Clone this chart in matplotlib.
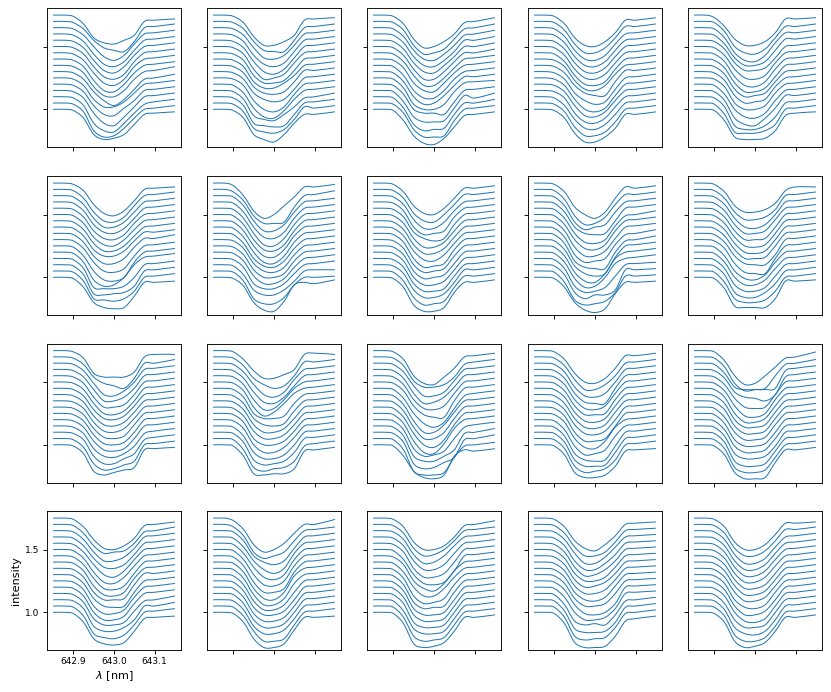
import numpy as np
import matplotlib
matplotlib.use("Agg")
import matplotlib.pyplot as plt
from matplotlib.path import Path
from matplotlib.patches import PathPatch

# sample wavelengths [nm]
wavelength = [642.85, 642.88, 642.90, 642.925, 642.95, 642.975, 643.0, 643.025, 643.05, 643.075, 643.10, 643.15]
# baseline of each stacked curve, top to bottom
offsets = [1.75, 1.70, 1.65, 1.60, 1.55, 1.50, 1.45, 1.40, 1.35, 1.30, 1.25, 1.20, 1.15, 1.10, 1.05, 1.00]
x_ticks = [642.9, 643.0, 643.1]
y_ticks = [1.0, 1.5]

# Depth below the baseline (0.01 units) at 642.90 ... 643.15, one row per curve
P01 = [[1,7,18,22,23,20,16,5,4,3],[1,6,15,21,23,24,16,5,4,2],[1,6,15,23,26,22,13,5,4,2],[1,6,16,24,26,22,13,5,4,2],
       [1,6,16,24,26,21,12,5,4,2],[1,6,16,24,26,22,12,5,4,2],[1,6,16,24,26,21,11,5,4,2],[1,6,17,25,26,20,11,5,4,2],
       [1,6,17,24,25,20,11,5,4,1],[1,6,16,23,27,22,14,6,5,2],[1,6,17,23,23,19,12,5,4,2],[1,6,17,24,25,19,13,5,4,2],
       [1,6,18,26,28,21,13,5,4,2],[1,7,21,27,28,21,13,6,4,2],[1,7,22,27,26,20,12,5,4,2],[1,7,20,24,23,20,12,4,3,2]]
P02 = [[1,6,17,24,24,21,16,4,3,2],[1,6,16,23,24,24,15,5,4,2],[1,6,16,24,25,22,14,5,4,2],[1,6,17,24,26,23,14,5,4,2],
       [1,6,17,25,27,23,14,5,4,2],[1,6,18,26,25,22,13,5,4,2],[1,6,18,24,24,22,14,5,4,2],[1,6,18,23,23,19,13,5,4,2],
       [1,6,17,22,23,21,13,4,4,2],[1,6,17,22,24,22,14,5,4,2],[1,6,18,25,27,23,13,5,4,2],[1,7,19,26,27,21,12,5,4,2],
       [1,7,20,23,24,19,13,6,5,2],[1,7,21,23,24,23,14,5,4,2],[1,7,20,23,24,21,13,3,4,2],[1,7,20,24,26,20,11,4,4,2]]
P03 = [[1,7,19,26,25,21,15,6,5,2],[1,7,19,26,25,22,14,6,5,2],[1,7,18,25,26,21,14,6,5,2],[1,7,18,25,26,21,14,5,5,2],
       [1,7,18,25,26,20,13,5,5,2],[1,7,18,26,26,20,12,5,5,2],[1,7,18,26,26,20,12,5,4,2],[1,7,19,25,26,19,11,5,4,2],
       [1,8,20,26,26,20,11,5,4,2],[1,8,20,26,25,19,11,4,4,2],[1,8,21,25,25,21,11,4,3,2],[1,8,20,23,23,24,14,5,4,2],
       [1,9,21,25,25,24,14,4,6,2],[1,9,22,27,26,25,14,5,5,2],[1,8,21,27,27,26,14,5,4,2],[1,9,21,27,28,23,14,5,4,2]]
P04 = [[1,7,18,24,25,21,14,4,4,2],[1,7,18,25,25,21,13,4,4,2],[1,7,18,25,26,22,13,5,4,2],[1,7,18,25,26,22,13,5,4,2],
       [1,7,18,25,26,22,13,5,4,2],[1,7,18,25,26,22,13,5,4,2],[1,7,18,25,26,23,13,5,4,2],[1,6,17,24,25,21,12,5,4,2],
       [1,6,16,22,24,24,13,4,4,2],[1,6,17,23,26,24,14,5,4,2],[1,6,17,25,27,24,14,5,4,2],[1,6,17,25,26,22,13,5,4,2],
       [1,6,18,25,26,22,13,5,4,2],[1,7,18,25,26,22,14,5,4,2],[1,7,19,26,26,23,15,5,4,2],[1,7,19,26,26,22,15,4,4,2]]
P05 = [[2,9,19,24,24,21,14,3,3,2],[1,8,20,25,26,22,13,4,4,2],[1,8,20,26,27,22,12,4,4,2],[1,8,19,25,25,22,13,4,4,2],
       [1,7,18,24,24,22,14,5,4,2],[1,7,18,25,26,23,13,5,4,2],[1,7,19,26,27,23,13,5,4,2],[1,7,19,26,26,23,14,5,4,2],
       [1,7,19,25,24,22,13,5,4,2],[1,7,19,25,24,22,12,5,4,2],[1,7,20,25,25,22,12,5,4,2],[1,8,20,26,27,23,13,5,4,2],
       [1,8,22,27,28,22,14,4,4,2],[1,8,23,26,26,23,16,5,4,2],[1,9,23,24,24,22,17,5,4,2],[1,9,22,24,24,23,17,5,3,2]]
P06 = [[1,6,17,24,26,22,14,5,4,3],[1,7,18,25,26,22,13,5,4,2],[1,7,18,25,25,21,13,5,4,2],[1,7,18,24,25,21,13,5,4,2],
       [1,7,18,24,25,21,12,5,4,2],[1,7,18,24,25,20,12,5,4,2],[1,7,18,24,24,20,12,5,4,2],[1,7,18,23,23,19,11,4,4,2],
       [1,7,18,24,24,20,11,4,4,1],[1,7,18,25,26,23,13,5,4,2],[1,8,20,27,28,25,13,5,4,2],[1,8,22,27,26,20,10,4,3,1],
       [1,8,23,24,24,22,15,5,4,2],[1,8,23,24,23,22,17,5,4,2],[1,8,22,23,24,22,16,5,4,2],[1,8,20,24,25,24,15,4,4,3]]
P07 = [[2,10,22,28,25,18,11,3,3,1],[2,9,21,27,27,26,14,5,4,1],[1,8,20,28,28,23,13,5,4,2],[1,8,20,28,29,24,13,5,4,2],
       [1,8,20,29,30,24,13,5,4,2],[1,8,20,28,29,24,13,5,4,2],[1,8,20,28,29,23,12,5,4,2],[1,8,20,28,29,23,12,5,4,2],
       [1,8,20,26,27,22,12,5,4,2],[1,7,19,25,26,22,12,5,4,2],[1,7,19,25,25,22,12,5,4,2],[1,7,19,25,25,21,12,5,4,2],
       [1,7,20,24,24,20,12,5,4,2],[1,8,20,24,24,20,13,5,4,4],[1,8,22,26,26,21,11,5,5,4],[1,7,20,26,27,19,6,4,5,2]]
P08 = [[1,7,18,24,25,20,12,4,4,2],[1,7,19,25,26,20,12,4,4,2],[1,7,19,26,26,21,12,5,4,2],[1,7,20,26,25,23,12,5,4,2],
       [1,7,19,24,26,24,13,5,4,2],[1,7,19,26,26,22,13,5,4,2],[1,7,19,26,26,22,13,5,4,2],[1,7,19,26,27,22,13,5,4,2],
       [1,7,20,27,26,24,13,5,4,2],[1,7,20,26,25,23,13,5,4,2],[1,7,20,26,25,23,14,5,4,2],[1,7,20,26,26,23,14,5,4,2],
       [1,7,20,26,26,24,14,5,4,2],[1,7,20,26,26,23,14,4,4,2],[1,8,21,27,26,24,13,4,4,2],[1,8,22,27,27,24,12,4,4,2]]
P09 = [[1,7,19,25,28,23,12,3,4,2],[1,8,21,28,27,22,12,4,4,2],[1,8,21,27,25,23,13,5,4,2],[1,8,20,25,26,25,15,5,4,2],
       [1,8,20,27,28,25,14,6,5,2],[1,8,20,27,28,24,13,5,4,2],[1,8,21,28,28,24,14,5,4,2],[1,8,22,28,27,25,14,6,5,2],
       [1,8,22,27,28,28,15,6,5,2],[1,8,21,27,29,27,14,5,4,2],[1,8,21,28,29,22,10,5,4,2],[1,8,21,28,27,20,9,5,4,2],
       [1,8,22,27,26,23,14,5,4,3],[1,8,22,27,24,24,20,4,4,3],[1,9,23,27,26,24,17,4,4,3],[1,8,20,26,28,25,13,4,4,3]]
P10 = [[1,7,18,23,23,21,16,6,3,3],[1,7,18,24,24,22,16,5,4,2],[1,7,18,25,26,23,15,5,4,2],[1,7,18,25,25,23,14,5,4,2],
       [1,7,18,25,25,24,15,5,4,2],[1,7,18,25,26,24,15,5,4,2],[1,7,18,25,26,24,15,5,4,2],[1,7,18,25,25,24,15,5,4,2],
       [1,7,18,24,25,25,17,5,4,2],[1,7,19,26,27,27,15,5,4,2],[1,8,20,26,27,23,13,5,4,2],[1,8,20,26,26,22,13,5,4,2],
       [1,8,21,26,26,23,14,5,4,2],[1,8,22,26,26,22,15,5,4,2],[1,9,22,25,25,23,16,5,4,2],[1,9,23,24,24,24,17,3,3,2]]
P11 = [[1,6,18,21,21,21,17,5,3,3],[1,6,16,21,23,25,17,5,5,2],[1,6,16,25,26,22,15,5,4,2],[1,6,16,25,25,22,15,5,4,2],
       [1,6,17,25,25,23,15,5,4,2],[1,6,17,25,26,23,15,5,4,2],[1,6,17,24,25,22,14,5,4,2],[1,6,17,24,25,22,14,5,4,2],
       [1,6,17,24,25,22,14,5,4,2],[1,6,17,24,25,23,14,5,4,2],[1,6,17,24,25,23,15,5,4,2],[1,6,17,24,25,23,15,5,4,2],
       [1,6,18,24,25,22,16,6,4,2],[1,6,19,25,25,21,17,6,4,2],[1,7,20,25,24,21,18,5,4,2],[1,7,21,24,22,20,18,4,3,2]]
P12 = [[1,7,16,22,22,19,15,3,2,3],[1,7,17,22,25,23,15,4,4,2],[1,7,17,25,27,23,13,5,4,2],[1,7,18,26,27,22,13,5,4,2],
       [1,7,19,27,26,19,10,5,4,2],[1,7,20,27,24,17,9,5,4,2],[1,7,20,24,24,22,12,5,4,2],[1,7,19,24,25,23,13,5,4,2],
       [1,7,19,25,25,22,14,5,4,2],[1,7,19,25,25,22,14,5,4,2],[1,7,20,25,25,22,14,5,4,2],[1,7,20,26,26,22,14,5,4,2],
       [1,8,21,26,26,23,15,5,4,2],[1,8,22,26,25,23,16,5,4,2],[1,9,23,26,24,23,18,6,4,2],[1,9,23,24,23,23,19,5,4,2]]
P13 = [[1,7,20,26,27,21,14,5,4,2],[1,7,19,24,24,22,16,6,4,2],[1,7,18,26,26,23,14,5,4,2],[1,7,19,27,26,22,14,5,4,2],
       [1,7,19,26,27,24,14,5,4,2],[1,7,19,26,28,28,15,5,4,2],[1,8,20,28,31,27,16,6,4,2],[1,8,21,30,30,24,14,5,4,2],
       [1,8,21,30,30,25,14,5,4,2],[1,8,21,30,32,26,14,5,4,2],[1,8,22,31,32,24,12,5,4,2],[1,8,23,29,28,25,15,6,4,2],
       [1,8,24,28,28,24,19,6,5,2],[1,8,25,29,28,24,20,6,5,2],[1,9,26,29,29,27,15,6,5,3],[1,9,21,26,27,24,9,4,5,3]]
P14 = [[1,7,18,25,26,22,14,4,4,2],[1,7,18,26,26,22,15,5,4,2],[1,7,19,26,27,24,15,5,4,2],[1,7,19,26,27,27,15,5,4,2],
       [1,7,19,26,27,24,14,5,4,2],[1,7,19,26,26,25,14,5,4,2],[1,7,19,26,27,24,14,5,4,2],[1,7,19,26,27,24,14,5,4,2],
       [1,7,19,26,27,24,15,5,4,2],[1,7,20,27,27,25,15,5,4,2],[1,7,20,27,28,22,11,5,4,2],[1,8,21,28,27,24,13,5,4,2],
       [1,8,22,27,28,27,16,5,4,2],[1,8,22,27,27,26,16,5,4,2],[1,8,22,27,26,24,17,5,4,2],[1,8,22,26,26,24,17,5,4,3]]
P15 = [[1,8,20,27,26,20,13,6,5,1],[1,8,21,27,26,25,15,6,5,2],[1,8,19,21,21,21,20,6,4,2],[1,7,18,22,23,25,20,6,4,2],
       [1,7,18,25,26,25,15,5,4,2],[1,7,19,27,28,25,14,5,4,2],[1,7,20,27,27,24,14,5,4,2],[1,7,20,26,26,24,14,5,4,2],
       [1,7,20,26,26,24,14,5,4,2],[1,8,20,26,26,24,14,5,4,2],[1,8,21,26,26,24,15,5,4,2],[1,8,21,26,26,24,15,5,4,2],
       [1,8,22,26,26,24,16,5,4,2],[1,8,23,27,27,25,15,5,4,2],[1,8,23,27,27,25,15,5,4,2],[1,8,22,27,27,26,14,4,4,2]]
P16 = [[1,7,17,24,25,22,16,6,5,3],[1,7,17,23,22,21,15,6,5,2],[1,7,17,24,24,21,14,5,4,2],[1,7,17,24,25,22,14,5,4,2],
       [1,7,17,25,27,22,13,5,4,2],[1,7,18,26,27,22,13,5,4,2],[1,7,18,26,27,24,14,5,4,2],[1,7,19,26,27,24,13,5,4,2],
       [1,7,19,25,25,24,13,4,4,2],[1,7,19,25,26,25,14,5,4,2],[1,7,20,26,26,23,13,5,4,2],[1,7,20,26,26,23,13,5,4,2],
       [1,7,20,25,25,23,14,6,5,2],[1,7,21,25,25,22,16,5,5,2],[1,8,22,25,26,23,15,5,4,2],[1,8,21,25,26,24,15,5,4,3]]
P17 = [[2,9,21,27,25,20,12,5,5,1],[2,9,22,27,25,22,13,5,4,2],[1,8,20,25,27,24,14,5,4,2],[1,8,19,26,29,25,13,5,4,2],
       [1,8,19,27,29,25,13,5,4,2],[1,8,20,28,29,25,13,5,4,2],[1,8,21,29,29,26,13,5,4,2],[1,8,21,29,30,24,11,5,4,2],
       [1,8,21,29,29,24,12,5,4,2],[1,8,21,28,28,24,14,5,4,2],[1,8,21,27,27,24,15,5,4,2],[1,8,21,27,27,24,15,5,4,2],
       [1,8,21,27,27,24,15,5,4,2],[1,8,21,27,27,24,15,5,4,2],[1,8,20,28,28,26,15,5,4,2],[1,8,21,28,28,25,14,4,4,3]]
P18 = [[1,7,19,25,25,22,15,6,5,2],[1,7,19,25,24,20,13,5,4,2],[1,7,19,26,25,20,12,5,4,2],[1,7,19,26,26,22,13,5,4,2],
       [1,7,20,27,27,24,15,5,4,2],[1,8,20,27,28,26,17,5,4,2],[1,7,20,26,28,22,12,5,4,2],[1,8,20,27,27,21,12,5,4,2],
       [1,8,22,28,27,24,13,5,4,2],[1,8,22,27,26,25,14,5,4,2],[1,8,22,27,27,25,15,5,4,2],[1,8,22,27,27,25,15,5,4,2],
       [1,8,23,27,27,25,15,5,4,2],[1,9,23,27,27,25,15,5,4,2],[1,9,24,28,27,25,15,5,4,2],[1,9,25,28,27,24,15,4,4,2]]
P19 = [[1,7,18,24,26,21,14,5,4,3],[1,7,18,25,25,22,14,5,4,3],[1,7,18,26,26,21,13,5,4,3],[1,7,19,26,26,21,14,5,4,3],
       [1,7,19,26,25,21,14,5,4,3],[1,7,19,25,25,22,14,5,4,3],[1,7,19,25,24,21,14,5,4,3],[1,7,19,25,25,22,14,5,4,3],
       [1,7,19,25,26,23,14,5,4,3],[1,7,19,25,25,23,15,5,4,3],[1,7,19,26,27,25,18,5,4,3],[1,8,20,26,26,24,17,5,4,3],
       [1,9,22,25,24,25,17,6,5,3],[1,9,23,26,26,25,18,6,5,3],[1,9,24,27,26,25,17,6,5,3],[1,9,24,28,28,27,19,7,5,3]]
P20 = [[1,7,19,25,25,21,13,4,4,3],[1,7,19,25,25,21,13,4,4,2],[1,7,19,26,26,22,13,5,4,2],[1,7,19,26,26,22,13,5,4,2],
       [1,7,19,26,26,22,13,5,4,2],[1,7,19,26,26,22,13,5,4,2],[1,7,19,26,26,23,14,5,4,2],[1,7,19,26,26,23,14,5,4,2],
       [1,7,19,26,26,23,14,5,4,2],[1,7,20,26,27,24,14,5,4,2],[1,7,20,27,27,24,15,5,4,2],[1,7,20,27,28,25,15,5,4,2],
       [1,8,21,27,27,25,15,5,4,2],[1,8,22,27,28,25,16,5,4,2],[1,8,23,28,28,25,16,5,4,2],[1,8,23,28,27,24,15,4,4,2]]
panels = [P01, P02, P03, P04, P05, P06, P07, P08, P09, P10, P11, P12, P13, P14, P15, P16, P17, P18, P19, P20]


def smooth_curve(xs, ys):
    """Bezier path through the read values (no extra data points)."""
    pts = np.column_stack([xs, ys])
    ext = np.vstack([pts[0], pts, pts[-1]])
    verts, codes = [pts[0]], [Path.MOVETO]
    for j in range(1, len(ext) - 2):
        c1 = ext[j] + (ext[j + 1] - ext[j - 1]) / 6
        c2 = ext[j + 1] - (ext[j + 2] - ext[j]) / 6
        verts += [c1, c2, ext[j + 1]]
        codes += [Path.CURVE4] * 3
    return Path(verts, codes)


W, H = 831, 692
plt.rcParams["axes.linewidth"] = 0.9
plt.rcParams["xtick.major.size"] = 4
plt.rcParams["ytick.major.size"] = 4
plt.rcParams["xtick.major.width"] = 0.9
plt.rcParams["ytick.major.width"] = 0.9
fig = plt.figure(figsize=(W / 72, H / 72), dpi=72)
lefts = [47, 207, 367, 528, 688]
tops = [8, 176, 343.5, 511]
for i, depths in enumerate(panels):
    r, c = divmod(i, 5)
    ax = fig.add_axes([lefts[c] / W, 1 - (tops[r] + 139) / H, 134 / W, 139 / H])
    for base, row in zip(offsets, depths):
        y = base - np.array([0, 0] + row) / 100
        ax.add_patch(PathPatch(smooth_curve(wavelength, y), fill=False, edgecolor="C0", lw=1))
    ax.set_xlim(642.835, 643.165)
    ax.set_ylim(0.70, 1.807)
    ax.set_xticks(x_ticks)
    ax.set_yticks(y_ticks)
    if i == 15:
        ax.set_xlabel(r"$\lambda$ [nm]", fontsize=11.3, labelpad=3)
        ax.set_ylabel("intensity", fontsize=11.3, labelpad=4)
        ax.tick_params(labelsize=9)
    else:
        ax.tick_params(labelleft=False, labelbottom=False)
fig.savefig("out.png", dpi=72)
